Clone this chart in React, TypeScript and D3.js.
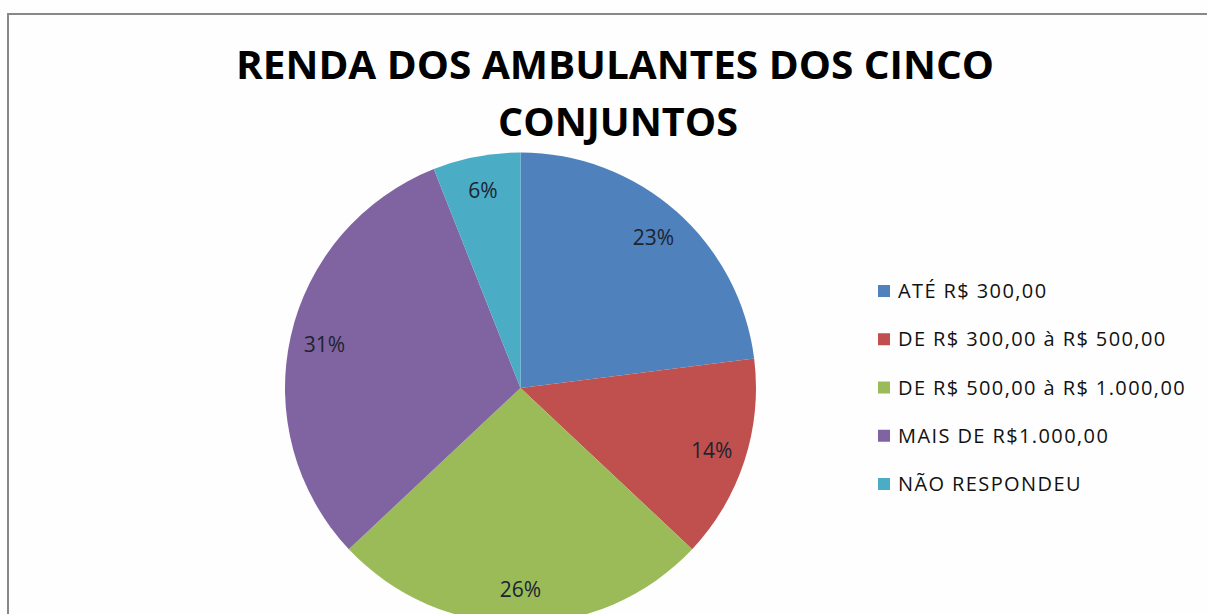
import React from "react";
import * as d3 from "d3";

const categories = [
  "ATÉ R$ 300,00",
  "DE R$ 300,00 à R$ 500,00",
  "DE R$ 500,00 à R$ 1.000,00",
  "MAIS DE R$1.000,00",
  "NÃO RESPONDEU",
];
const values = [23, 14, 26, 31, 6];
const colors = ["#4F81BD", "#C0504D", "#9BBB59", "#8064A2", "#4BACC6"];
const titleLines = ["RENDA DOS AMBULANTES DOS CINCO", "CONJUNTOS"];

const W = 1207;
const H = 614;
const cx = 520.5;
const cy = 388;
const R = 235.5;
const font = "'Open Sans', 'DejaVu Sans', sans-serif";

export default function App() {
  const pie = d3.pie<number>().sort(null).value((d) => d)(values);
  const arc = d3.arc<d3.PieArcDatum<number>>().innerRadius(0).outerRadius(R);
  const labelArc = d3.arc<d3.PieArcDatum<number>>().innerRadius(201).outerRadius(201);
  const total = d3.sum(values);
  const legendY = d3.scalePoint<number>().domain(d3.range(categories.length)).range([291, 484]);

  return (
    <svg width={W} height={H} style={{ position: "absolute", left: 0, top: 0, background: "#fff" }}>
      <rect x={0} y={0} width={W} height={H} fill="#fefefe" />
      <rect x={8} y={14} width={W + 20} height={H + 20} fill="none" stroke="#888" strokeWidth={2} />
      <text x={615} y={79} textAnchor="middle" fontFamily={font} fontWeight="bold" fontSize={39}
        textLength={758} lengthAdjust="spacingAndGlyphs" fill="#000">{titleLines[0]}</text>
      <text x={618} y={136} textAnchor="middle" fontFamily={font} fontWeight="bold" fontSize={39}
        textLength={240} lengthAdjust="spacingAndGlyphs" fill="#000">{titleLines[1]}</text>
      <g transform={`translate(${cx},${cy})`}>
        {pie.map((p, i) => (
          <path key={i} d={arc(p) || ""} fill={colors[i]} />
        ))}
        {pie.map((p, i) => {
          const [x, y] = labelArc.centroid(p);
          return (
            <text key={i} x={x} y={y} dy="0.36em" textAnchor="middle" fontFamily={font} fontSize={21} fill="#1c2430">
              {Math.round((p.data / total) * 100)}%
            </text>
          );
        })}
      </g>
      {categories.map((c, i) => (
        <g key={i}>
          <rect x={878} y={legendY(i)! - 6} width={12} height={12} fill={colors[i]} />
          <text x={898} y={legendY(i)!} dy="0.36em" fontFamily={font} fontSize={20} letterSpacing={1.4}
            fill="#111">{c}</text>
        </g>
      ))}
    </svg>
  );
}
